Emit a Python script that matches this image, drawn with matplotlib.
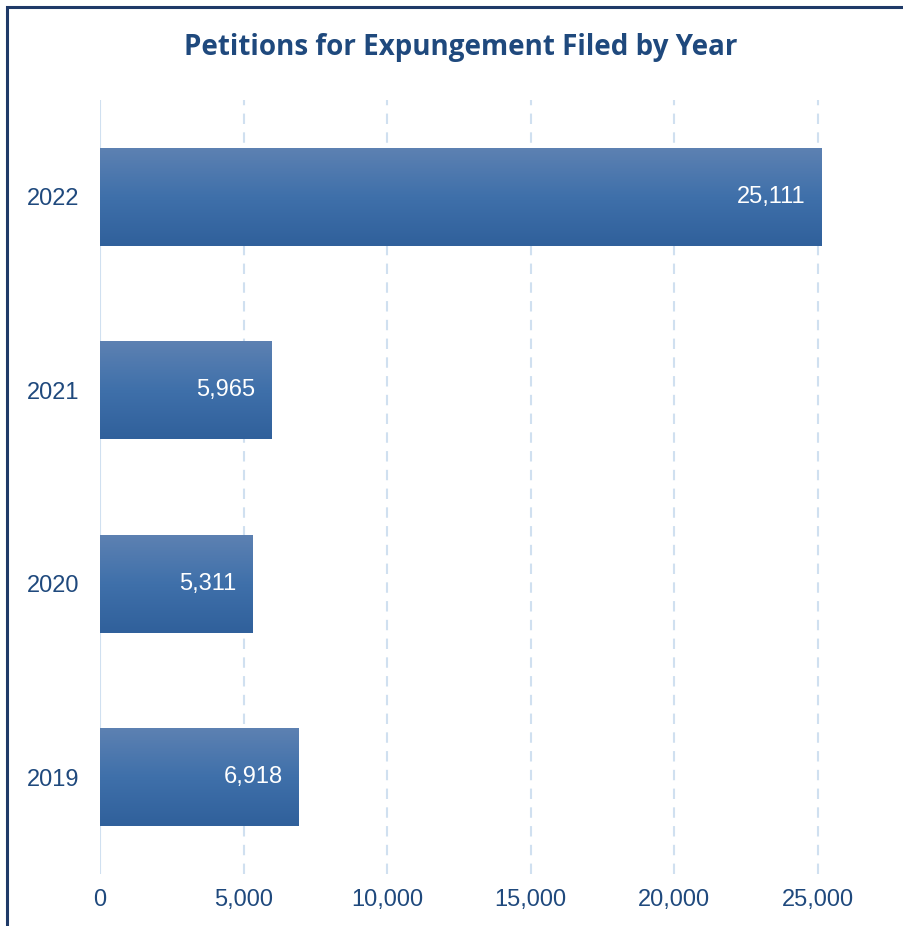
import numpy as np
import matplotlib.pyplot as plt
from matplotlib.colors import LinearSegmentedColormap

years = ["2019", "2020", "2021", "2022"]
petitions = [6918, 5311, 5965, 25111]
x_ticks = [0, 5000, 10000, 15000, 20000, 25000]

navy = "#1f497d"
grid_col = "#d0e0f0"

fig = plt.figure(figsize=(9.04, 9.26), dpi=100)
ax = fig.add_axes([100 / 904, 1 - 874 / 926, 770 / 904, 774 / 926])

# gradient fill for the bars, lighter at the top
grad = LinearSegmentedColormap.from_list("bar", ["#30609b", "#3f70aa", "#5d81b2"])
g = np.linspace(0, 1, 256).reshape(-1, 1)

bar_h = 0.505
for i, v in enumerate(petitions):
    ax.imshow(g, cmap=grad, origin="lower", aspect="auto",
              extent=(0, v, i - bar_h / 2, i + bar_h / 2), zorder=3)
    ax.text(v - 550, i, f"{v:,}", ha="right", va="center", color="white",
            fontsize=17, family="Liberation Sans", zorder=4)

ax.set_xlim(0, 25000 * 770 / 718)
ax.set_ylim(-0.5, 3.5)

# grid lines
for t in x_ticks:
    if t == 0:
        ax.axvline(t, color=grid_col, lw=1.5, zorder=1)
    else:
        ax.axvline(t, color=grid_col, lw=1.5, ls=(0, (5, 4)), zorder=1)

ax.set_xticks(x_ticks)
ax.set_xticklabels([f"{t:,}" for t in x_ticks])
ax.set_yticks(range(len(years)))
ax.set_yticklabels(years)
for lab in ax.get_xticklabels() + ax.get_yticklabels():
    lab.set_family("Liberation Sans")
    lab.set_fontsize(17)
    lab.set_color(navy)
ax.tick_params(axis="x", length=0, pad=11)
ax.tick_params(axis="y", length=0, pad=15)
for s in ax.spines.values():
    s.set_visible(False)

fig.text(461 / 904, 1 - 48 / 926, "Petitions for Expungement Filed by Year",
         ha="center", va="center", fontsize=20, fontweight="bold",
         color=navy, family="Open Sans")

# outer frame (only top and left visible in the crop)
frame = plt.Rectangle((7 / 904, -0.1), 1.2, 1 - 7 / 926 + 0.1,
                      transform=fig.transFigure, fill=False,
                      edgecolor="#1f3a68", lw=2.2, zorder=10)
fig.add_artist(frame)

fig.savefig("out.png", dpi=100)
